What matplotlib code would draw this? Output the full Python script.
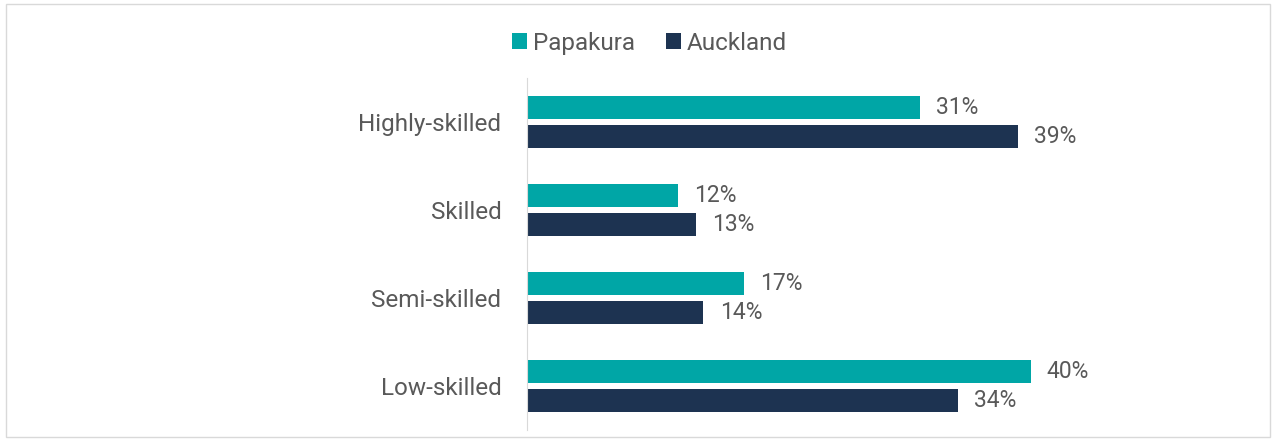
import matplotlib

matplotlib.use("Agg")
import matplotlib.pyplot as plt
from matplotlib.patches import Rectangle

categories = ["Highly-skilled", "Skilled", "Semi-skilled", "Low-skilled"]
papakura = [0.312, 0.12, 0.172, 0.40]
auckland = [0.39, 0.134, 0.14, 0.342]
series_names = ["Papakura", "Auckland"]

TEAL = "#00A6A6"
NAVY = "#1D3351"
TEXT = "#595959"

plt.rcParams["font.family"] = ["Roboto", "DejaVu Sans"]

fig = plt.figure(figsize=(12.79, 4.41), dpi=100)
ax = fig.add_axes([0.412, 0.025, 0.568, 0.798])

y = list(range(len(categories)))
off = 0.169
h = 0.263
ax.barh([i - off for i in y], papakura, height=h, color=TEAL, label=series_names[0])
ax.barh([i + off for i in y], auckland, height=h, color=NAVY, label=series_names[1])

for i, (p, a) in enumerate(zip(papakura, auckland)):
    ax.text(p + 0.013, i - off, f"{p:.0%}", va="center", ha="left", fontsize=16.5, color=TEXT)
    ax.text(a + 0.013, i + off, f"{a:.0%}", va="center", ha="left", fontsize=16.5, color=TEXT)

ax.set_ylim(len(categories) - 0.5, -0.5)
ax.set_xlim(0, 0.577)
ax.set_yticks(y)
ax.set_yticklabels(categories, fontsize=17.5, color=TEXT)
ax.tick_params(axis="y", length=0, pad=18.5)
ax.set_xticks([])
for side in ("top", "right", "bottom"):
    ax.spines[side].set_visible(False)
ax.spines["left"].set_color("#D9D9D9")

fig.legend(loc="center", bbox_to_anchor=(0.508, 0.902), ncol=2, frameon=False,
           fontsize=17.5, labelcolor=TEXT, handlelength=0.6, handleheight=0.6,
           handletextpad=0.25, columnspacing=1.3)

fig.patches.append(Rectangle((0.005, 0.01), 0.988, 0.98, transform=fig.transFigure,
                             fill=False, edgecolor="#D9D9D9", linewidth=1))

fig.savefig("out.png", dpi=100)
